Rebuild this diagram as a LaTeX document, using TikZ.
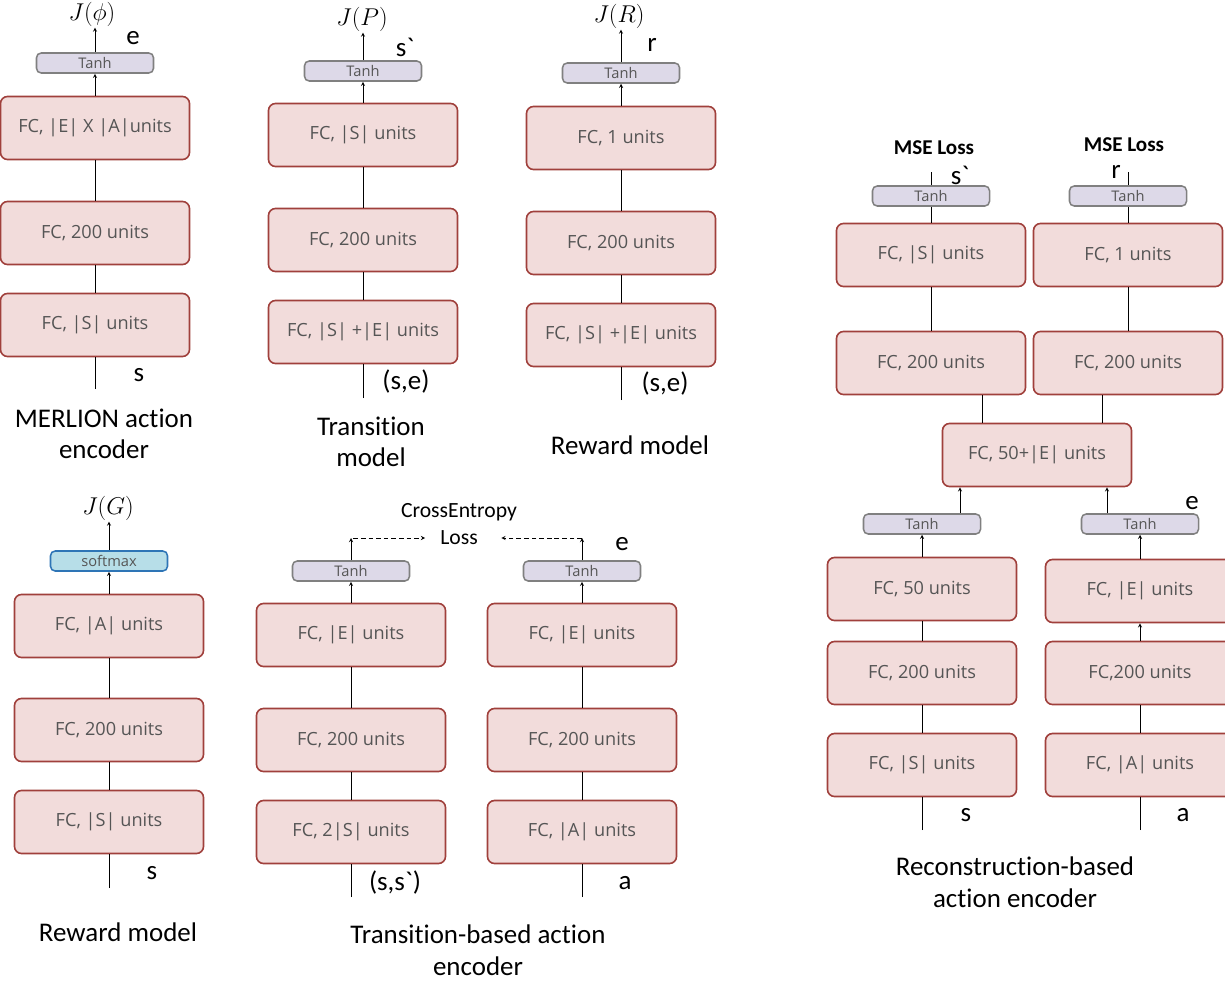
\documentclass[tikz,border=0pt]{standalone}
\usepackage{fontspec}
\usepackage{amsmath}
\newfontfamily\labelfont{Carlito}[Ligatures=NoCommon]
\newfontfamily\layerfont{Open Sans}
\usetikzlibrary{arrows,positioning,calc}
\definecolor{layerpink}{RGB}{242,220,219}
\definecolor{layerred}{RGB}{160,64,60}
\definecolor{actlilac}{RGB}{221,217,232}
\definecolor{actgray}{RGB}{128,128,128}
\definecolor{softblue}{RGB}{183,222,232}
\definecolor{edgeblue}{RGB}{46,117,182}
\definecolor{textgray}{RGB}{85,85,85}
\tikzset{
    % Fully connected layer style
    fclayer/.style={
        rectangle, draw=layerred, line width=1.4pt, fill=layerpink,
        minimum width=5.67cm, minimum height=1.89cm,
        rounded corners=6pt, text=textgray,
        font=\layerfont\fontsize{15.5}{19}\selectfont
    },
    % Activation style
    actlayer/.style={
        rectangle, draw=actgray, line width=1.3pt, fill=actlilac,
        minimum width=3.51cm, minimum height=0.6cm, inner sep=0pt,
        rounded corners=4pt, text=textgray,
        font=\layerfont\fontsize{12.5}{14}\selectfont
    },
    % Softmax style
    softlayer/.style={
        actlayer, draw=edgeblue, fill=softblue
    },
    % Input / output label style
    iolabel/.style={
        font=\labelfont\fontsize{23}{27}\selectfont, inner sep=0pt
    },
    % Objective style
    objective/.style={
        font=\fontsize{20}{24}\selectfont, inner sep=1pt
    },
    % Loss text style
    losstext/.style={
        font=\labelfont\fontsize{18.5}{22}\selectfont, inner sep=0pt
    },
    % Bold loss style
    msetext/.style={
        font=\labelfont\bfseries\fontsize{18}{22}\selectfont, inner sep=0pt
    },
    % Model caption style
    modelcaption/.style={
        font=\labelfont\fontsize{23}{27}\selectfont, align=center, inner sep=0pt
    },
    % Plain links
    link/.style={line width=0.6pt},
    % Forward arrows
    fwdarrow/.style={
        ->, >=stealth, line width=0.6pt
    },
    % Loss arrows
    lossarrow/.style={
        ->, >=stealth, line width=0.6pt, dash pattern=on 4pt off 2.5pt
    }
}

\begin{document}
\begin{tikzpicture}[x=0.03cm, y=-0.03cm]
\useasboundingbox (0,0) rectangle (1225,981);

% MERLION action encoder
\node[fclayer] (mer3) at (95,128) {FC, |E| X |A|units};
\node[fclayer] (mer2) at (95,233) {FC, 200 units};
\node[fclayer] (mer1) at (95,325) {FC, |S| units};
\node[actlayer] (mert) at (95,63) {Tanh};
\node[objective] (merj) at (92,14) {$J(\phi)$};
\node[iolabel] (mere) at (133,38) {e};
\node[iolabel] (mers) at (139,375) {s};
\coordinate (merin) at (95,389);
\node[modelcaption] (mercap) at (104,434) {MERLION action\\encoder};

% Transition model
\node[fclayer] (trm3) at (363,135) {FC, |S| units};
\node[fclayer] (trm2) at (363,240) {FC, 200 units};
\node[fclayer] (trm1) at (363,332) {FC, |S| +|E| units};
\node[actlayer] (trmt) at (363,71) {Tanh};
\node[objective] (trmj) at (362,19) {$J(P)$};
\node[iolabel] (trms) at (405,47) {s`};
\node[iolabel] (trmse) at (406,382) {(s,e)};
\coordinate (trmin) at (363,398);
\node[modelcaption] (trmcap) at (371,442) {Transition\\model};

% Reward model (top)
\node[fclayer] (rew3) at (621,138) {FC, 1 units};
\node[fclayer] (rew2) at (621,243) {FC, 200 units};
\node[fclayer] (rew1) at (621,335) {FC, |S| +|E| units};
\node[actlayer] (rewt) at (621,73) {Tanh};
\node[objective] (rewj) at (619,16) {$J(R)$};
\node[iolabel] (rewr) at (652,45) {r};
\node[iolabel] (rewse) at (665,384) {(s,e)};
\coordinate (rewin) at (621,400);
\node[modelcaption] (rewcap) at (630,445) {Reward model};

% Reconstruction-based action encoder
\node[actlayer] (recta) at (931,196) {Tanh};
\node[fclayer] (recs2) at (931,255) {FC, |S| units};
\node[fclayer] (rec200a) at (931,363) {FC, 200 units};
\node[actlayer] (rectb) at (1128,196) {Tanh};
\node[fclayer] (rec1u) at (1128,255) {FC, 1 units};
\node[fclayer] (rec200b) at (1128,363) {FC, 200 units};
\node[msetext] (recmsea) at (934,148) {MSE Loss};
\node[msetext] (recmseb) at (1124,145) {MSE Loss};
\node[iolabel] (recsp) at (960,175) {s`};
\node[iolabel] (recr) at (1116,172) {r};
\coordinate (recouta) at (931,172);
\coordinate (recoutb) at (1128,172);
\node[fclayer] (recmrg) at (1037,455) {FC, 50+|E| units};
\node[actlayer] (recbt) at (922,524) {Tanh};
\node[fclayer] (rec50) at (922,589) {FC, 50 units};
\node[fclayer] (rec200c) at (922,673) {FC, 200 units};
\node[fclayer] (recs1) at (922,765) {FC, |S| units};
\node[actlayer] (recet) at (1140,524) {Tanh};
\node[fclayer] (rece) at (1140,591) {FC, |E| units};
\node[fclayer] (rec200d) at (1140,673) {FC,200 units};
\node[fclayer] (reca) at (1140,765) {FC, |A| units};
\node[iolabel] (rece2) at (1192,503) {e};
\node[iolabel] (recs) at (966,815) {s};
\node[iolabel] (reca2) at (1183,815) {a};
\coordinate (recsin) at (922,830);
\coordinate (recain) at (1140,830);
\coordinate (mrgl) at (982,0);
\coordinate (mrgr) at (1102,0);
\coordinate (mrgbl) at (960,0);
\coordinate (mrgbr) at (1107,0);
\node[modelcaption] (reccap) at (1015,882) {Reconstruction-based\\action encoder};

% Reward model (softmax)
\node[softlayer] (rwgt) at (109,561) {softmax};
\node[fclayer] (rwg3) at (109,626) {FC, |A| units};
\node[fclayer] (rwg2) at (109,730) {FC, 200 units};
\node[fclayer] (rwg1) at (109,822) {FC, |S| units};
\node[objective] (rwgj) at (108,508) {$J(G)$};
\node[iolabel] (rwgs) at (152,873) {s};
\coordinate (rwgin) at (109,888);
\node[modelcaption] (rwgcap) at (118,932) {Reward model};

% Transition-based action encoder
\node[actlayer] (tbalt) at (351,571) {Tanh};
\node[fclayer] (tbal3) at (351,635) {FC, |E| units};
\node[fclayer] (tbal2) at (351,740) {FC, 200 units};
\node[fclayer] (tbal1) at (351,832) {FC, 2|S| units};
\node[actlayer] (tbart) at (582,571) {Tanh};
\node[fclayer] (tbar3) at (582,635) {FC, |E| units};
\node[fclayer] (tbar2) at (582,740) {FC, 200 units};
\node[fclayer] (tbar1) at (582,832) {FC, |A| units};
\node[losstext] (tbace) at (459,512) {CrossEntropy};
\node[losstext] (tbaloss) at (459,538) {Loss};
\node[iolabel] (tbae) at (622,544) {e};
\node[iolabel] (tbass) at (395,883) {(s,s`)};
\node[iolabel] (tbaa) at (625,883) {a};
\coordinate (tbalin) at (351,897);
\coordinate (tbarin) at (582,897);
\coordinate (tbaltop) at (351,538);
\coordinate (tbartop) at (582,538);
\node[modelcaption] (tbacap) at (478,950) {Transition-based action\\encoder};

% Plain links between layers
\foreach \a/\b in {merin/mer1, mer1/mer2, mer2/mer3,
                   trmin/trm1, trm1/trm2, trm2/trm3,
                   rewin/rew1, rew1/rew2, rew2/rew3,
                   rwgin/rwg1, rwg1/rwg2, rwg2/rwg3,
                   tbalin/tbal1, tbal1/tbal2, tbal2/tbal3,
                   tbarin/tbar1, tbar1/tbar2, tbar2/tbar3,
                   recsin/recs1, recs1/rec200c, rec200c/rec50,
                   recain/reca, reca/rec200d,
                   rec200a/recs2, recs2/recta, recta/recouta,
                   rec200b/rec1u, rec1u/rectb, rectb/recoutb} {
    \draw[link] (\a) -- (\b);
}

% Forward arrows
\foreach \a/\b in {mer3/mert, trm3/trmt, rew3/rewt, rwg3/rwgt,
                   tbal3/tbalt, tbar3/tbart, tbalt/tbaltop, tbart/tbartop,
                   rec50/recbt, rece/recet, rec200d/rece} {
    \draw[fwdarrow] (\a) -- (\b);
}
\foreach \t/\j in {mert/merj, trmt/trmj, rewt/rewj, rwgt/rwgj} {
    \draw[fwdarrow] (\t) -- (\t |- \j.south);
}

% Links into the merged layer
\draw[link] (rec200a.south -| mrgl) -- (recmrg.north -| mrgl);
\draw[link] (rec200b.south -| mrgr) -- (recmrg.north -| mrgr);
\draw[fwdarrow] (recbt.north -| mrgbl) -- (recmrg.south -| mrgbl);
\draw[fwdarrow] (recet.north -| mrgbr) -- (recmrg.south -| mrgbr);

% Loss arrows
\draw[lossarrow, shorten <=2pt, shorten >=0.45cm] (tbaltop) -- (tbaloss.west);
\draw[lossarrow, shorten >=0.7cm] (tbartop) -- (tbaloss.east);

\end{tikzpicture}
\end{document}
